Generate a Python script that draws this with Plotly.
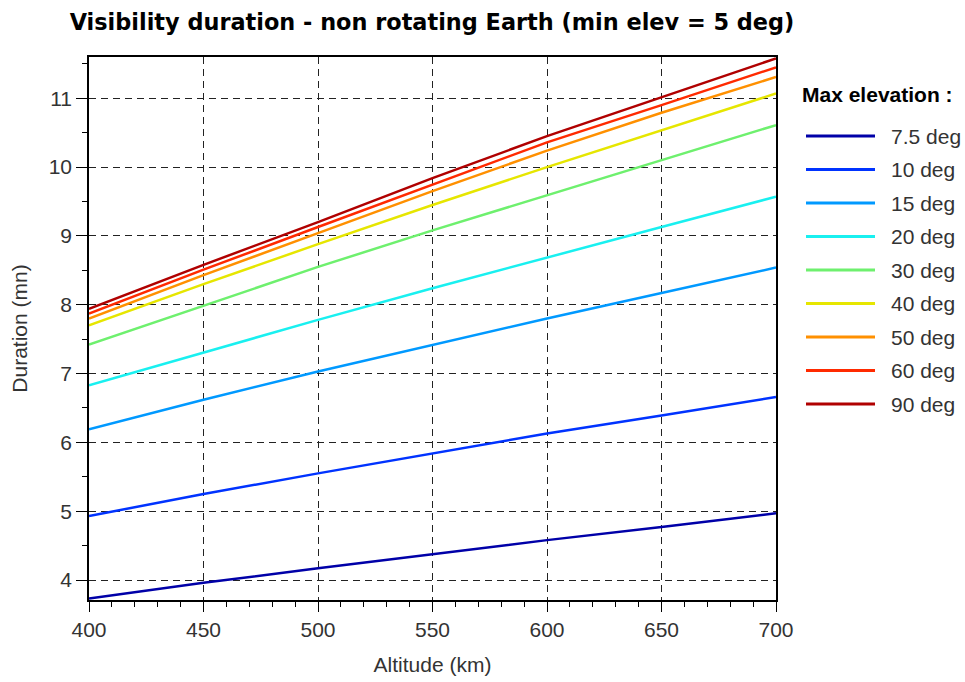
import plotly.graph_objects as go

altitude = [400, 450, 500, 550, 600, 650, 700]

labels = ["7.5 deg", "10 deg", "15 deg", "20 deg", "30 deg", "40 deg", "50 deg", "60 deg", "90 deg"]

dur_7_5 = [3.73, 3.96, 4.17, 4.38, 4.58, 4.77, 4.97]
dur_10 = [4.93, 5.25, 5.55, 5.84, 6.13, 6.39, 6.66]
dur_15 = [6.19, 6.62, 7.03, 7.42, 7.80, 8.17, 8.54]
dur_20 = [6.83, 7.31, 7.78, 8.24, 8.69, 9.13, 9.57]
dur_30 = [7.42, 7.99, 8.55, 9.08, 9.59, 10.11, 10.61]
dur_40 = [7.70, 8.30, 8.88, 9.45, 10.00, 10.54, 11.07]
dur_50 = [7.80, 8.43, 9.04, 9.65, 10.24, 10.79, 11.31]
dur_60 = [7.87, 8.51, 9.13, 9.75, 10.36, 10.90, 11.45]
dur_90 = [7.94, 8.58, 9.20, 9.84, 10.45, 11.01, 11.58]

series = [dur_7_5, dur_10, dur_15, dur_20, dur_30, dur_40, dur_50, dur_60, dur_90]
colors = ["#0000a8", "#0033ff", "#0099ff", "#19f0f0", "#6ef06e", "#e6e600", "#ff9000", "#ff2a00", "#b00000"]

# figure geometry
W, H = 965, 682
L, R, T, B = 89, 189, 57, 82
PW, PH = W - L - R, H - T - B


def px_x(x):
    return (x - L) / PW


def px_y(y):
    return 1 - (y - T) / PH


font_family = "Liberation Sans, Arial, sans-serif"
tick_font = dict(family=font_family, size=21, color="#333333")

fig = go.Figure()
for lab, ys, c in zip(labels, series, colors):
    fig.add_trace(go.Scatter(
        x=altitude, y=ys, mode="lines", name=lab,
        line=dict(color=c, width=2.5),
        showlegend=False,
    ))

# legend drawn as shapes + annotations
shapes = []
annotations = [dict(
    text="<b>Max elevation :</b>", xref="paper", yref="paper",
    x=px_x(800), y=px_y(94), xanchor="left", yanchor="middle",
    showarrow=False, font=dict(family=font_family, size=21, color="black"),
)]
for i, (lab, c) in enumerate(zip(labels, colors)):
    yc = 136 + i * 33.5
    shapes.append(dict(
        type="line", xref="paper", yref="paper",
        x0=px_x(806), x1=px_x(875), y0=px_y(yc), y1=px_y(yc),
        line=dict(color=c, width=3),
    ))
    annotations.append(dict(
        text=lab, xref="paper", yref="paper",
        x=px_x(889), y=px_y(yc), xanchor="left", yanchor="middle",
        showarrow=False, font=dict(family=font_family, size=21, color="#333333"),
    ))

fig.update_layout(
    width=W, height=H,
    margin=dict(l=L, r=R, t=T, b=B),
    paper_bgcolor="white", plot_bgcolor="white",
    title=dict(
        text="<b>Visibility duration - non rotating Earth (min elev = 5 deg)</b>",
        x=432 / W, xanchor="center",
        y=1 - 22 / H, yanchor="middle",
        font=dict(family="DejaVu Sans, sans-serif", size=22.4, color="black"),
    ),
    showlegend=False,
    shapes=shapes,
    annotations=annotations,
)

fig.update_xaxes(
    range=[400, 700],
    tick0=400, dtick=50,
    automargin=False,
    showline=True, linecolor="black", linewidth=1.6, mirror=True,
    ticks="outside", ticklen=10, tickcolor="black", tickwidth=1.3,
    minor=dict(dtick=10, ticks="outside", ticklen=5, tickcolor="black", showgrid=False),
    showgrid=True, gridcolor="#222222", gridwidth=1.3, griddash="7px,5px",
    zeroline=False,
    tickfont=tick_font,
    title=dict(text="Altitude (km)", font=tick_font, standoff=17),
)
fig.update_yaxes(
    range=[3.71, 11.6],
    tick0=4, dtick=1,
    automargin=False,
    showline=True, linecolor="black", linewidth=1.6, mirror=True,
    ticks="outside", ticklen=11, tickcolor="black", tickwidth=1.3,
    minor=dict(dtick=0.5, ticks="outside", ticklen=5, tickcolor="black", showgrid=False),
    showgrid=True, gridcolor="#222222", gridwidth=1.3, griddash="7px,5px",
    zeroline=False,
    tickfont=tick_font,
    title=dict(text="Duration (mn)", font=tick_font, standoff=15),
)

fig.write_html(
    "out.html",
    config={"displayModeBar": False},
    post_script="document.body.style.margin='0';document.documentElement.style.overflow='hidden';",
)
